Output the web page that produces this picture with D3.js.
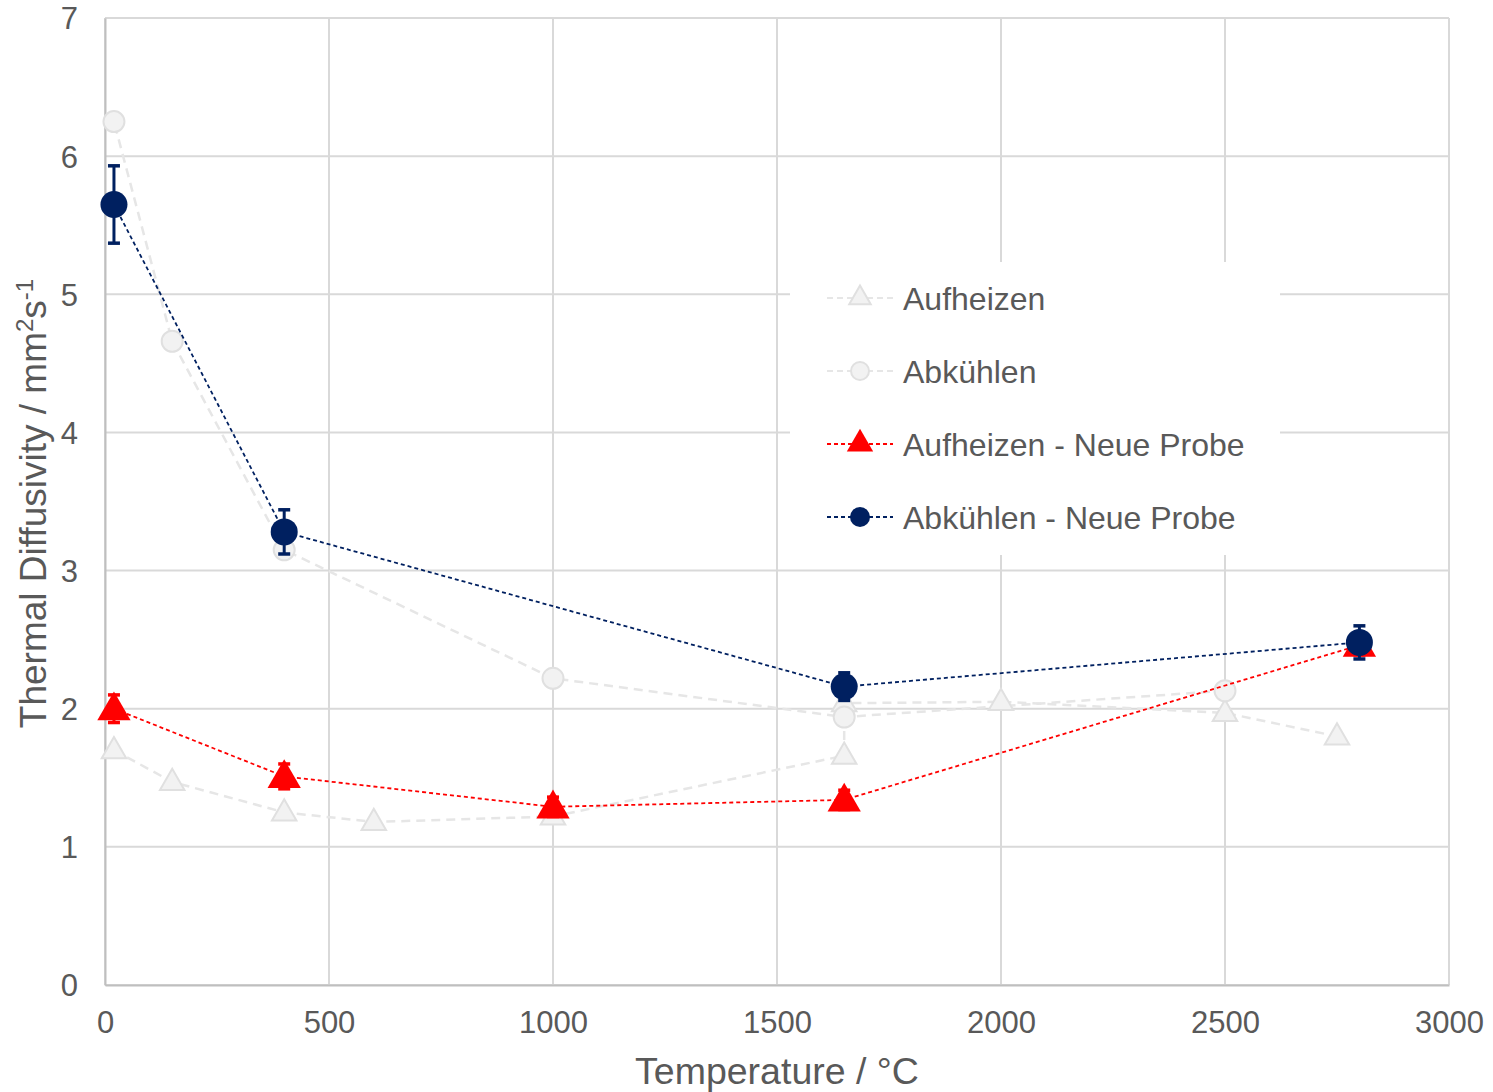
<!DOCTYPE html>
<html>
<head>
<meta charset="utf-8">
<script src="https://cdn.jsdelivr.net/npm/d3@7"></script>
<style>
  html, body { margin: 0; padding: 0; background: #ffffff; }
  svg { display: block; }
  text { font-family: "Liberation Sans", Arial, sans-serif; fill: #595959; }
</style>
</head>
<body>
<svg id="chart" width="1493" height="1092"></svg>
<script>
// Axis ticks
const xTicks = [0, 500, 1000, 1500, 2000, 2500, 3000];
const yTicks = [0, 1, 2, 3, 4, 5, 6, 7];

// Earlier sample, heating run (plotted in measurement order)
const heatOldT = [20, 150, 400, 600, 1000, 1650, 1650, 2000, 2500, 2750];
const heatOldV = [1.70, 1.47, 1.25, 1.18, 1.22, 1.66, 2.04, 2.05, 1.97, 1.80];

// Earlier sample, cooling run
const coolOldT = [2500, 1650, 1000, 400, 150, 20];
const coolOldV = [2.13, 1.94, 2.22, 3.15, 4.66, 6.25];

// New sample, heating run with error
const heatNewT = [20, 400, 1000, 1650, 2800];
const heatNewV = [2.00, 1.51, 1.29, 1.34, 2.46];
const heatNewE = [0.10, 0.09, 0.07, 0.07, 0.07];

// New sample, cooling run with error
const coolNewT = [20, 400, 1650, 2800];
const coolNewV = [5.65, 3.28, 2.16, 2.48];
const coolNewE = [0.28, 0.16, 0.10, 0.12];

const legendLabels = ["Aufheizen", "Abkühlen", "Aufheizen - Neue Probe", "Abkühlen - Neue Probe"];

const svg = d3.select("#chart");
const plotL = 105, plotR = 1449, plotT = 18, plotB = 985;

const x = d3.scaleLinear().domain([0, 3000]).range([plotL, plotR]);
const y = d3.scaleLinear().domain([0, 7]).range([plotB, plotT]);

const gridColor = "#d9d9d9";
const navy = "#002060";
const red = "#ff0000";
const grayLine = "#e6e6e6";
const grayFill = "#f2f2f2";
const grayStroke = "#e0e0e0";

// Grid
const grid = svg.append("g");
grid.selectAll("line.h").data(yTicks).join("line")
  .attr("x1", plotL).attr("x2", plotR)
  .attr("y1", d => y(d)).attr("y2", d => y(d))
  .attr("stroke", gridColor).attr("stroke-width", 2);
grid.selectAll("line.v").data(xTicks).join("line")
  .attr("x1", d => x(d)).attr("x2", d => x(d))
  .attr("y1", plotT).attr("y2", plotB)
  .attr("stroke", gridColor).attr("stroke-width", 2);

// Axes
const fmt = d3.format("d");
const xAxis = d3.axisBottom(x).tickValues(xTicks).tickFormat(fmt).tickSize(0).tickPadding(26);
const yAxis = d3.axisLeft(y).tickValues(yTicks).tickFormat(fmt).tickSize(0).tickPadding(27);
const gx = svg.append("g").attr("transform", `translate(0,${plotB})`).call(xAxis);
const gy = svg.append("g").attr("transform", `translate(${plotL},0)`).call(yAxis);
[gx, gy].forEach(g => {
  g.select(".domain").attr("stroke", "#bfbfbf").attr("stroke-width", 2);
  g.selectAll("text").style("font-size", "31px").style("fill", "#595959")
    .style("font-family", '"Liberation Sans", Arial, sans-serif');
});
gy.selectAll("text").attr("dy", "0.35em");

// Axis titles
svg.append("text")
  .attr("x", (plotL + plotR) / 2).attr("y", 1084)
  .attr("text-anchor", "middle").style("font-size", "37.5px")
  .text("Temperature / °C");

const yt = svg.append("text")
  .attr("transform", `translate(46,${(plotT + plotB) / 2 + 2}) rotate(-90)`)
  .attr("text-anchor", "middle").style("font-size", "37px");
yt.append("tspan").text("Thermal Diffusivity / mm");
yt.append("tspan").attr("dy", -13).style("font-size", "24px").text("2");
yt.append("tspan").attr("dy", 13).text("s");
yt.append("tspan").attr("dy", -13).style("font-size", "24px").text("-1");

const line = d3.line().x(d => x(d[0])).y(d => y(d[1]));
const tri = (s) => d3.symbol().type(d3.symbolTriangle).size(s)();

function zip(a, b, c) { return a.map((v, i) => c ? [v, b[i], c[i]] : [v, b[i]]); }

// Earlier sample series (faint)
const heatOld = zip(heatOldT, heatOldV);
const coolOld = zip(coolOldT, coolOldV);
const faint = svg.append("g");
faint.append("path").datum(heatOld).attr("d", line)
  .attr("fill", "none").attr("stroke", grayLine).attr("stroke-width", 2.5)
  .attr("stroke-dasharray", "9,6");
faint.append("path").datum(coolOld).attr("d", line)
  .attr("fill", "none").attr("stroke", grayLine).attr("stroke-width", 2.5)
  .attr("stroke-dasharray", "9,6");
faint.selectAll("path.ho").data(heatOld).join("path")
  .attr("transform", d => `translate(${x(d[0])},${y(d[1]) + 1})`)
  .attr("d", tri(260))
  .attr("fill", grayFill).attr("stroke", grayStroke).attr("stroke-width", 2);
faint.selectAll("circle.co").data(coolOld).join("circle")
  .attr("cx", d => x(d[0])).attr("cy", d => y(d[1])).attr("r", 10.5)
  .attr("fill", grayFill).attr("stroke", grayStroke).attr("stroke-width", 2);

// New sample series with error bars
function drawSeries(data, color, marker) {
  const g = svg.append("g");
  g.append("path").datum(data).attr("d", line)
    .attr("fill", "none").attr("stroke", color).attr("stroke-width", 1.8)
    .attr("stroke-dasharray", "4,3");
  const eb = g.selectAll("g.eb").data(data).join("g");
  eb.append("line")
    .attr("x1", d => x(d[0])).attr("x2", d => x(d[0]))
    .attr("y1", d => y(d[1] - d[2])).attr("y2", d => y(d[1] + d[2]))
    .attr("stroke", color).attr("stroke-width", 3);
  [-1, 1].forEach(sgn => {
    eb.append("line")
      .attr("x1", d => x(d[0]) - 6).attr("x2", d => x(d[0]) + 6)
      .attr("y1", d => y(d[1] + sgn * d[2])).attr("y2", d => y(d[1] + sgn * d[2]))
      .attr("stroke", color).attr("stroke-width", 3.5);
  });
  if (marker === "tri") {
    g.selectAll("path.m").data(data).join("path")
      .attr("transform", d => `translate(${x(d[0])},${y(d[1]) + 2})`)
      .attr("d", tri(480)).attr("fill", color);
  } else {
    g.selectAll("circle.m").data(data).join("circle")
      .attr("cx", d => x(d[0])).attr("cy", d => y(d[1])).attr("r", 13.5)
      .attr("fill", color);
  }
}
drawSeries(zip(heatNewT, heatNewV, heatNewE), red, "tri");
drawSeries(zip(coolNewT, coolNewV, coolNewE), navy, "circle");

// Legend
const lg = svg.append("g");
lg.append("rect").attr("x", 790).attr("y", 262).attr("width", 490).attr("height", 293)
  .attr("fill", "#ffffff");
const legendStyles = [
  { color: grayLine, dash: "6,4", w: 2, marker: "tri", fill: grayFill, stroke: grayStroke, size: 200 },
  { color: grayLine, dash: "6,4", w: 2, marker: "circle", fill: grayFill, stroke: grayStroke, r: 9 },
  { color: red, dash: "4,3", w: 1.8, marker: "tri", fill: red, stroke: "none", size: 300 },
  { color: navy, dash: "4,3", w: 1.8, marker: "circle", fill: navy, stroke: "none", r: 10 }
];
const legendY = [298, 371, 444, 517];
legendLabels.forEach((lab, i) => {
  const st = legendStyles[i];
  const cy = legendY[i];
  lg.append("line").attr("x1", 827).attr("x2", 893).attr("y1", cy).attr("y2", cy)
    .attr("stroke", st.color).attr("stroke-width", st.w).attr("stroke-dasharray", st.dash);
  if (st.marker === "tri") {
    lg.append("path").attr("transform", `translate(860,${cy})`)
      .attr("d", tri(st.size)).attr("fill", st.fill)
      .attr("stroke", st.stroke).attr("stroke-width", 2);
  } else {
    lg.append("circle").attr("cx", 860).attr("cy", cy).attr("r", st.r)
      .attr("fill", st.fill).attr("stroke", st.stroke).attr("stroke-width", 2);
  }
  lg.append("text").attr("x", 903).attr("y", cy).attr("dy", "0.36em")
    .style("font-size", "32px").text(lab);
});
</script>
</body>
</html>
